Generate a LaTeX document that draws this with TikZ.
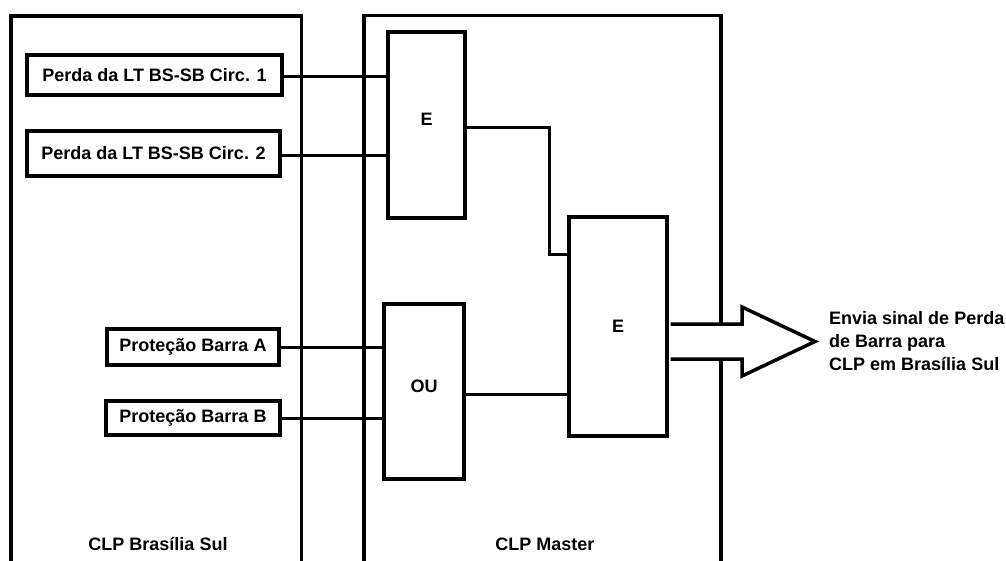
\documentclass[tikz,border=0pt]{standalone}
\usepackage{fontspec}
\setmainfont{Liberation Sans}
\usetikzlibrary{calc}
\pgfdeclarelayer{bg}
\pgfsetlayers{bg,main}
\begin{document}
\begin{tikzpicture}[x=1pt,y=-1pt,
  every node/.style={font=\fontsize{18}{23}\selectfont\bfseries, inner sep=0pt},
  inbox/.style={draw, line width=3.5pt, minimum width=#1},
  gate/.style={draw, line width=3.5pt},
  frame/.style={line width=3.5pt},
  wire/.style={line width=3pt},
  bigarrow/.style={line width=3.5pt, fill=white, line join=miter}
]
\useasboundingbox (0,0) rectangle (1006,560);

% input boxes
\node[inbox=255pt, minimum height=40pt] (c1) at (154.5,75) {Perda da LT BS-SB Circ. 1};
\node[inbox=253pt, minimum height=45pt] (c2) at (153.5,153.5) {Perda da LT BS-SB Circ. 2};
\node[inbox=172pt, minimum height=36pt] (pa) at (193,347) {Proteção Barra A};
\node[inbox=174pt, minimum height=34pt] (pb) at (193,418) {Proteção Barra B};

% gates
\node[gate, minimum width=77pt, minimum height=186pt, label={[yshift=6pt]center:E}] (e1) at (426.5,125) {};
\node[gate, minimum width=80pt, minimum height=175pt, label={[yshift=5.5pt]center:OU}] (ou) at (424,391.5) {};
\node[gate, minimum width=98pt, minimum height=219pt, label={center:E}] (e2) at (618,326.5) {};

% panel labels
\node (lblbs) at (158,544) {CLP Brasília Sul};
\node (lblm) at (545,544) {CLP Master};
\node[align=left, anchor=west] (out) at (829,341) {Envia sinal de Perda\\de Barra para\\CLP em Brasília Sul};

% wires
\draw[wire] ([yshift=-1pt]c1.east) -- ([yshift=-1pt]c1.east -| e1.west);
\draw[wire] ([yshift=-1.5pt]c2.east) -- ([yshift=-1.5pt]c2.east -| e1.west);
\draw[wire] (pa.east) -- (pa.east -| ou.west);
\draw[wire] (pb.east) -- (pb.east -| ou.west);
\draw[wire] ([yshift=-2pt]e1.east) -- ([yshift=-2pt]e1.east -| 549,0)
  |- ($(e2.north west)!0.178!(e2.south west)$);
\draw[wire] ([yshift=-2.5pt]ou.east) -- ([yshift=-2.5pt]ou.east -| e2.west);

\begin{pgfonlayer}{bg}
\draw[frame] (11,565) -- (11,16) -- (301.5,16) -- (301.5,565);
\draw[frame] (364,565) -- (364,15.5) -- (721,15.5) -- (721,565);
\draw[bigarrow] ($(e2.east)+(1.75,-2.5)$) -- (742,324) -- (742,307) -- (815,341.5)
  -- (742,376) -- (742,359) -- ($(e2.east)+(1.75,32.5)$);
\end{pgfonlayer}
\end{tikzpicture}
\end{document}
